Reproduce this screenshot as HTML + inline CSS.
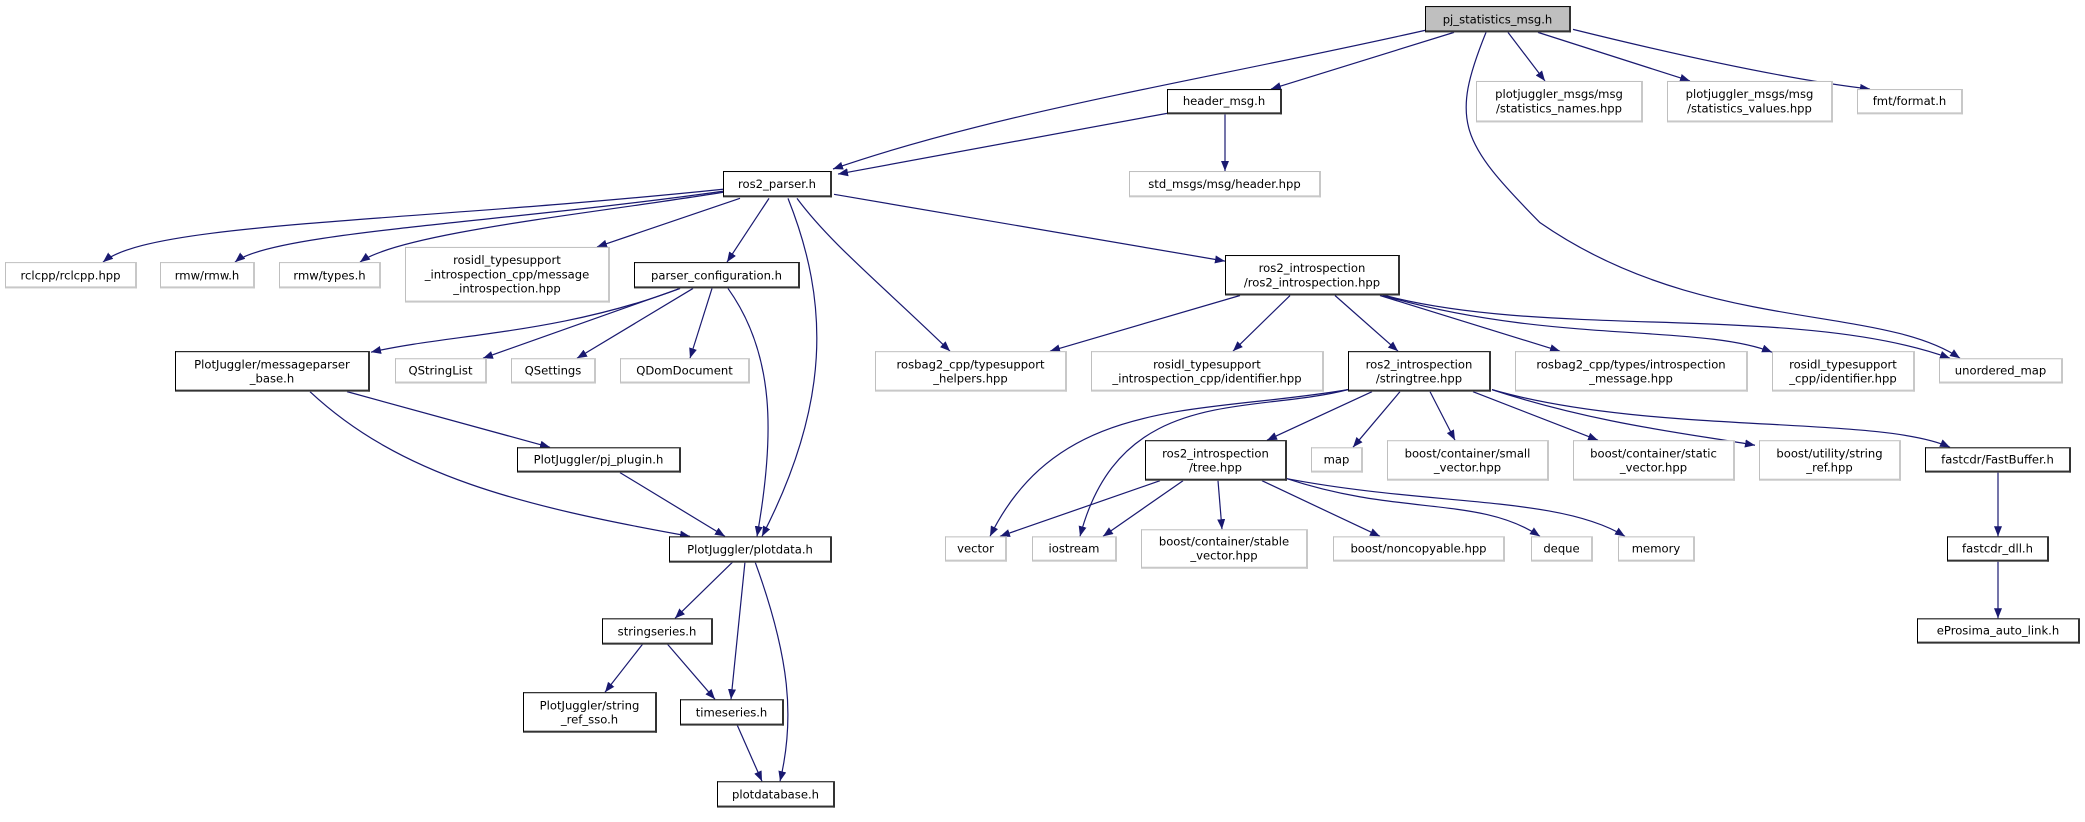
<!DOCTYPE html>
<html><head><meta charset="utf-8"><style>
body{margin:0;background:#fff;width:2085px;height:812px;position:relative;overflow:hidden;font-family:"DejaVu Sans","Liberation Sans",sans-serif;}
#w{position:absolute;left:0;top:0;width:2085px;height:812px;transform:scale(1,1.012);transform-origin:0 0;}
.n{position:absolute;box-sizing:border-box;background:#fff;display:flex;align-items:center;justify-content:center;text-align:center;font-size:11.6px;line-height:14px;color:#000;border:1px solid #bfbfbf;white-space:nowrap;}
.b{border:1.3px solid #000;border-bottom:2px solid #333;border-right:2px solid #333;}
.g{border:1px solid #bfbfbf;border-bottom:2px solid #c8c8c8;border-right:2px solid #c8c8c8;}
.root{background:#bfbfbf;}
svg{position:absolute;left:0;top:0;}
</style></head><body><div id="w">
<svg width="2085" height="812" viewBox="0 0 2085 812">
<defs><marker id="a" markerWidth="10" markerHeight="8" refX="10" refY="4" orient="auto" markerUnits="userSpaceOnUse"><path d="M0,0 L10,4 L0,8 z" fill="#191970"/></marker></defs>
<g fill="none" stroke="#191970" stroke-width="1.2" marker-end="url(#a)">
<path d="M1425,30 C1200,80 1000,110 833,167"/>
<path d="M1454,32 L1271,88"/>
<path d="M1508,32 L1545,80"/>
<path d="M1538,32 L1690,80"/>
<path d="M1573,29 C1700,60 1800,80 1870,88"/>
<path d="M1486,32 C1450,120 1460,140 1540,220 C1700,330 1880,300 1960,354"/>
<path d="M1225,113 L1225,169"/>
<path d="M1167,112 L838,172"/>
<path d="M723,187 C400,220 150,220 103,259"/>
<path d="M723,189 C500,220 270,230 235,259"/>
<path d="M723,190 C600,210 400,230 360,259"/>
<path d="M740,196 L597,244"/>
<path d="M769,196 L727,259"/>
<path d="M788,196 C830,300 830,400 762,530"/>
<path d="M797,196 C830,240 880,280 950,347"/>
<path d="M834,192 L1225,258"/>
<path d="M680,285 C560,330 450,330 371,348"/>
<path d="M680,285 L483,354"/>
<path d="M693,285 L577,354"/>
<path d="M712,285 L690,354"/>
<path d="M728,285 C775,350 775,430 757,530"/>
<path d="M347,387 L550,442"/>
<path d="M310,387 C400,470 520,500 690,530"/>
<path d="M620,467 L725,530"/>
<path d="M733,555 L675,611"/>
<path d="M745,555 L731,691"/>
<path d="M755,555 C790,650 795,710 780,772"/>
<path d="M643,636 L605,684"/>
<path d="M667,636 L715,691"/>
<path d="M737,716 L762,772"/>
<path d="M1240,292 L1050,347"/>
<path d="M1290,292 L1233,347"/>
<path d="M1335,292 L1398,347"/>
<path d="M1380,292 L1560,347"/>
<path d="M1383,292 C1550,340 1700,320 1772,348"/>
<path d="M1385,292 C1550,335 1800,300 1950,354"/>
<path d="M1348,385 C1200,410 1060,390 990,530"/>
<path d="M1348,385 C1250,410 1120,380 1080,530"/>
<path d="M1372,387 L1267,435"/>
<path d="M1400,387 L1353,442"/>
<path d="M1430,387 L1455,435"/>
<path d="M1473,387 L1598,435"/>
<path d="M1492,385 C1600,420 1700,430 1755,440"/>
<path d="M1492,385 C1650,430 1880,410 1950,442"/>
<path d="M1160,475 L1000,530"/>
<path d="M1183,475 L1103,530"/>
<path d="M1218,475 L1222,523"/>
<path d="M1262,475 L1380,530"/>
<path d="M1287,473 C1400,510 1480,490 1540,530"/>
<path d="M1287,473 C1430,500 1560,490 1625,530"/>
<path d="M1998,467 L1998,530"/>
<path d="M1998,555 L1998,611"/>
</g></svg>
<div class="n b root" style="left:1425px;top:6px;width:146px;height:26px">pj_statistics_msg.h</div>
<div class="n b" style="left:1167px;top:88px;width:115px;height:25px">header_msg.h</div>
<div class="n g" style="left:1476px;top:80px;width:167px;height:41px">plotjuggler_msgs/msg<br>/statistics_names.hpp</div>
<div class="n g" style="left:1667px;top:80px;width:166px;height:41px">plotjuggler_msgs/msg<br>/statistics_values.hpp</div>
<div class="n g" style="left:1857px;top:88px;width:106px;height:25px">fmt/format.h</div>
<div class="n g" style="left:1129px;top:169px;width:192px;height:26px">std_msgs/msg/header.hpp</div>
<div class="n b" style="left:723px;top:169px;width:109px;height:26px">ros2_parser.h</div>
<div class="n g" style="left:5px;top:259px;width:132px;height:26px">rclcpp/rclcpp.hpp</div>
<div class="n g" style="left:160px;top:259px;width:95px;height:26px">rmw/rmw.h</div>
<div class="n g" style="left:279px;top:259px;width:102px;height:26px">rmw/types.h</div>
<div class="n g" style="left:405px;top:244px;width:205px;height:55px">rosidl_typesupport<br>_introspection_cpp/message<br>_introspection.hpp</div>
<div class="n b" style="left:634px;top:259px;width:166px;height:26px">parser_configuration.h</div>
<div class="n b" style="left:1225px;top:252px;width:175px;height:40px">ros2_introspection<br>/ros2_introspection.hpp</div>
<div class="n b" style="left:175px;top:347px;width:195px;height:40px">PlotJuggler/messageparser<br>_base.h</div>
<div class="n g" style="left:395px;top:354px;width:92px;height:25px">QStringList</div>
<div class="n g" style="left:511px;top:354px;width:85px;height:25px">QSettings</div>
<div class="n g" style="left:620px;top:354px;width:130px;height:25px">QDomDocument</div>
<div class="n g" style="left:875px;top:347px;width:192px;height:40px">rosbag2_cpp/typesupport<br>_helpers.hpp</div>
<div class="n g" style="left:1091px;top:347px;width:233px;height:40px">rosidl_typesupport<br>_introspection_cpp/identifier.hpp</div>
<div class="n b" style="left:1348px;top:347px;width:143px;height:40px">ros2_introspection<br>/stringtree.hpp</div>
<div class="n g" style="left:1515px;top:347px;width:233px;height:40px">rosbag2_cpp/types/introspection<br>_message.hpp</div>
<div class="n g" style="left:1772px;top:347px;width:143px;height:40px">rosidl_typesupport<br>_cpp/identifier.hpp</div>
<div class="n g" style="left:1939px;top:354px;width:124px;height:25px">unordered_map</div>
<div class="n b" style="left:517px;top:442px;width:164px;height:25px">PlotJuggler/pj_plugin.h</div>
<div class="n b" style="left:1145px;top:435px;width:142px;height:40px">ros2_introspection<br>/tree.hpp</div>
<div class="n g" style="left:1311px;top:442px;width:52px;height:25px">map</div>
<div class="n g" style="left:1387px;top:435px;width:162px;height:40px">boost/container/small<br>_vector.hpp</div>
<div class="n g" style="left:1573px;top:435px;width:162px;height:40px">boost/container/static<br>_vector.hpp</div>
<div class="n g" style="left:1759px;top:435px;width:142px;height:40px">boost/utility/string<br>_ref.hpp</div>
<div class="n b" style="left:1925px;top:442px;width:146px;height:25px">fastcdr/FastBuffer.h</div>
<div class="n b" style="left:669px;top:530px;width:163px;height:26px">PlotJuggler/plotdata.h</div>
<div class="n g" style="left:945px;top:530px;width:62px;height:25px">vector</div>
<div class="n g" style="left:1032px;top:530px;width:85px;height:25px">iostream</div>
<div class="n g" style="left:1141px;top:523px;width:167px;height:39px">boost/container/stable<br>_vector.hpp</div>
<div class="n g" style="left:1333px;top:530px;width:172px;height:25px">boost/noncopyable.hpp</div>
<div class="n g" style="left:1531px;top:530px;width:62px;height:25px">deque</div>
<div class="n g" style="left:1618px;top:530px;width:77px;height:25px">memory</div>
<div class="n b" style="left:1947px;top:530px;width:102px;height:25px">fastcdr_dll.h</div>
<div class="n b" style="left:602px;top:611px;width:111px;height:26px">stringseries.h</div>
<div class="n b" style="left:1917px;top:611px;width:163px;height:25px">eProsima_auto_link.h</div>
<div class="n b" style="left:523px;top:684px;width:134px;height:40px">PlotJuggler/string<br>_ref_sso.h</div>
<div class="n b" style="left:680px;top:691px;width:104px;height:26px">timeseries.h</div>
<div class="n b" style="left:717px;top:772px;width:118px;height:26px">plotdatabase.h</div>
</div></body></html>
